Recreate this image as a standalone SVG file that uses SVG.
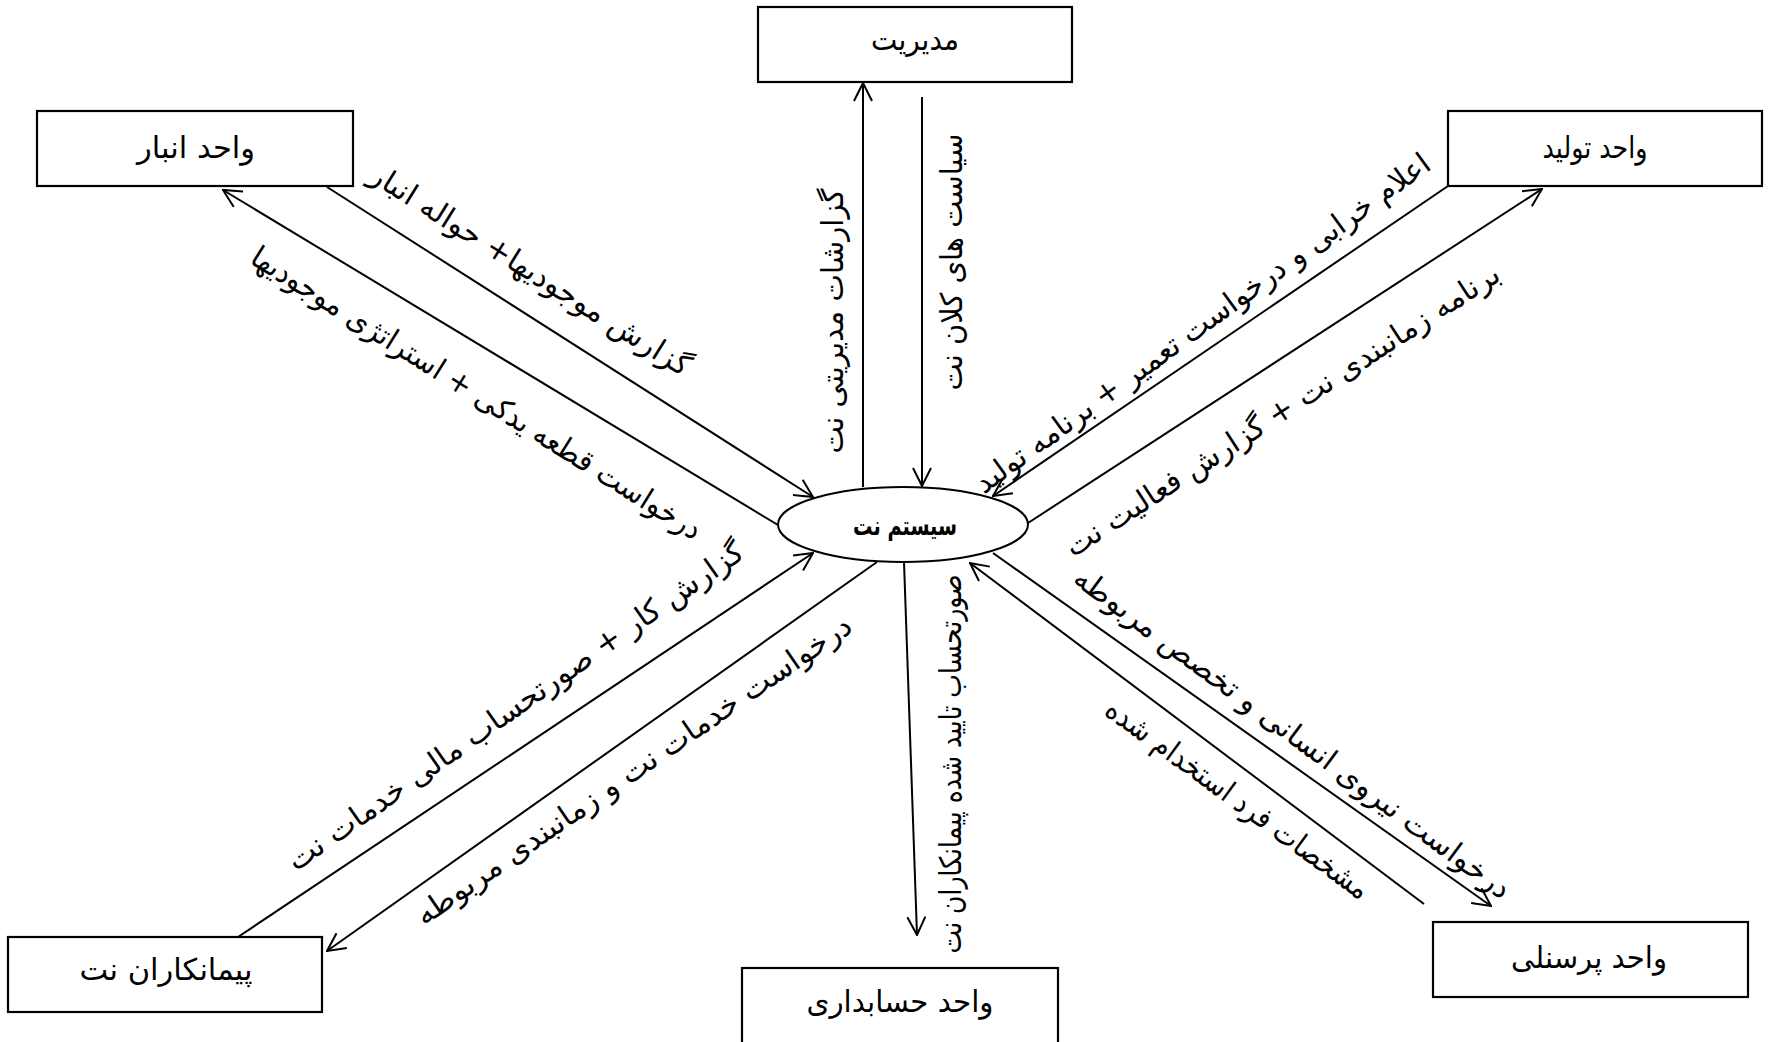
<svg xmlns="http://www.w3.org/2000/svg" width="1768" height="1042" viewBox="0 0 1768 1042">
<style>
.box{fill:#fff;stroke:#000;stroke-width:2.2}
.lbl{font-family:"DejaVu Sans","Liberation Sans",sans-serif;font-size:30px;fill:#000;text-anchor:middle}
.elbl{font-family:"DejaVu Sans","Liberation Sans",sans-serif;font-size:30px;fill:#000;text-anchor:middle}
.cen{font-family:"DejaVu Sans","Liberation Sans",sans-serif;font-size:27px;font-weight:bold;fill:#000;text-anchor:middle}
.conn line{stroke:#000;stroke-width:2;fill:none;marker-end:url(#arr)}
</style>
<defs>
<marker id="arr" viewBox="0 0 20 20" refX="19" refY="10" markerWidth="20" markerHeight="20" markerUnits="userSpaceOnUse" orient="auto">
<path d="M1,1 L19,10 L1,19" fill="none" stroke="#000" stroke-width="2"/>
</marker>
</defs>
<rect width="1768" height="1042" fill="#fff"/>
<g id="connectors" class="conn">
<line x1="863" y1="487" x2="863" y2="83"/>
<line x1="922" y1="97" x2="922" y2="486"/>
<line x1="327" y1="187" x2="813" y2="497"/>
<line x1="778" y1="525" x2="223" y2="190"/>
<line x1="1448" y1="186" x2="993" y2="496"/>
<line x1="1028" y1="523" x2="1542" y2="189"/>
<line x1="238" y1="937" x2="813" y2="553"/>
<line x1="877" y1="562" x2="327" y2="951"/>
<line x1="904" y1="562" x2="917" y2="935"/>
<line x1="993" y1="553" x2="1491" y2="906"/>
<line x1="1424" y1="904" x2="970" y2="563"/>
</g>
<g id="edge-labels">
<text class="elbl" transform="translate(834,321) rotate(-90)" y="9" textLength="265" lengthAdjust="spacingAndGlyphs">گزارشات مدیریتی نت</text>
<text class="elbl" transform="translate(953,262) rotate(-90)" y="9" textLength="257" lengthAdjust="spacingAndGlyphs">سیاست  های کلان  نت</text>
<text class="elbl" transform="translate(530,271) rotate(32)" y="9" textLength="372" lengthAdjust="spacingAndGlyphs">گزارش موجودیها+ حواله انبار</text>
<text class="elbl" transform="translate(476,394) rotate(32)" y="9" textLength="525" lengthAdjust="spacingAndGlyphs">درخواست قطعه یدکی + استراتژی موجودیها</text>
<text class="elbl" transform="translate(1203,324) rotate(-36)" y="9" textLength="555" lengthAdjust="spacingAndGlyphs">اعلام خرابی و درخواست تعمیر + برنامه تولید</text>
<text class="elbl" transform="translate(1283,411) rotate(-33)" y="9" textLength="512" lengthAdjust="spacingAndGlyphs">برنامه زمانبندی نت + گزارش فعالیت نت</text>
<text class="elbl" transform="translate(516,707) rotate(-35)" y="9" textLength="550" lengthAdjust="spacingAndGlyphs">گزارش کار  + صورتحساب مالی خدمات نت</text>
<text class="elbl" transform="translate(634,771) rotate(-34.5)" y="9" textLength="522" lengthAdjust="spacingAndGlyphs">درخواست خدمات نت  و زمانبندی  مربوطه</text>
<text class="elbl" transform="translate(952,764) rotate(-90)" y="9" textLength="379" lengthAdjust="spacingAndGlyphs">صورتحساب تایید شده پیمانکاران نت</text>
<text class="elbl" transform="translate(1292,734) rotate(36.5)" y="9" textLength="535" lengthAdjust="spacingAndGlyphs">درخواست نیروی انسانی و تخصص مربوطه</text>
<text class="elbl" transform="translate(1237,800) rotate(36)" y="9" textLength="318" lengthAdjust="spacingAndGlyphs">مشخصات فرد استخدام شده</text>
</g>
<g id="node-system">
<ellipse cx="903" cy="524.5" rx="125" ry="37.5" fill="#fff" stroke="#000" stroke-width="2"/>
<text class="cen" x="905" y="535" textLength="104" lengthAdjust="spacingAndGlyphs">سیستم نت</text>
</g>
<g id="node-management">
<rect class="box" x="758" y="7" width="314" height="75"/>
<text class="lbl" x="915" y="50" textLength="88" lengthAdjust="spacingAndGlyphs">مدیریت</text>
</g>
<g id="node-warehouse">
<rect class="box" x="37" y="111" width="316" height="75"/>
<text class="lbl" x="196" y="158" textLength="118" lengthAdjust="spacingAndGlyphs">واحد انبار</text>
</g>
<g id="node-production">
<rect class="box" x="1448" y="111" width="314" height="75"/>
<text class="lbl" x="1595" y="158" textLength="105" lengthAdjust="spacingAndGlyphs">واحد تولید</text>
</g>
<g id="node-contractors">
<rect class="box" x="8" y="937" width="314" height="75"/>
<text class="lbl" x="166" y="980" textLength="173" lengthAdjust="spacingAndGlyphs">پیمانکاران نت</text>
</g>
<g id="node-accounting">
<rect class="box" x="742" y="968" width="316" height="80"/>
<text class="lbl" x="900" y="1012" textLength="187" lengthAdjust="spacingAndGlyphs">واحد حسابداری</text>
</g>
<g id="node-personnel">
<rect class="box" x="1433" y="922" width="315" height="75"/>
<text class="lbl" x="1589" y="968" textLength="156" lengthAdjust="spacingAndGlyphs">واحد پرسنلی</text>
</g>
</svg>
